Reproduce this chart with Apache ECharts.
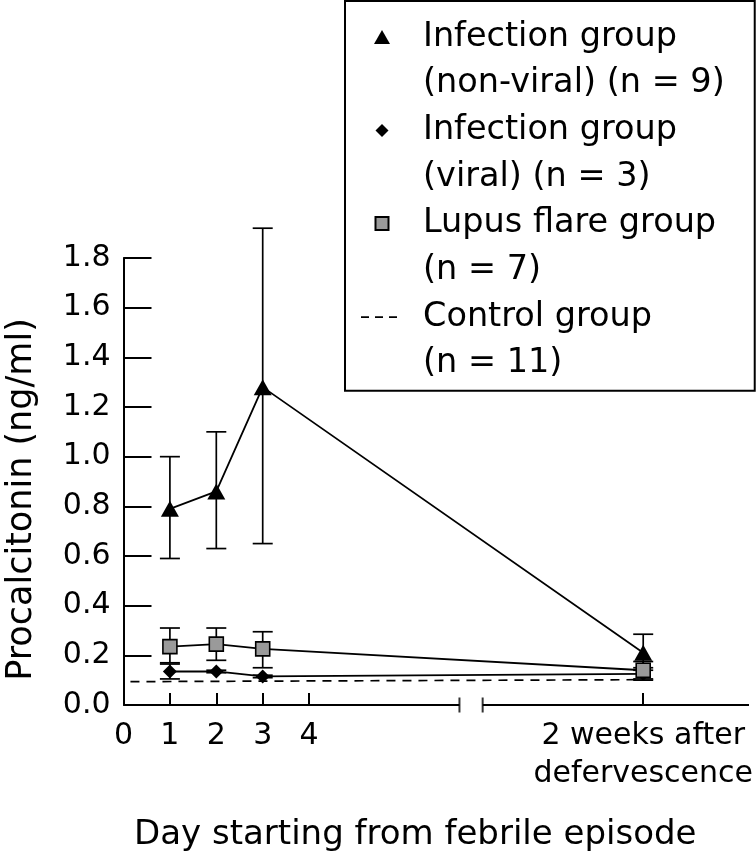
<!DOCTYPE html>
<html>
<head>
<meta charset="utf-8">
<script src="https://cdn.jsdelivr.net/npm/echarts@6/dist/echarts.min.js"></script>
<style>
html,body{margin:0;padding:0;background:#fff;}
#chart{width:756px;height:853px;}
</style>
</head>
<body>
<div id="chart"></div>
<script>
// ---- data ----
// x positions: days 1,2,3 and "2 weeks after defervescence" (placed after the axis break)
const xPositions = [1, 2, 3, 11.2];
const xTickLabelValues = [0, 1, 2, 3, 4, 11.2];
const xTickLabelTexts = ['0', '1', '2', '3', '4', '2 weeks after\ndefervescence'];
const xTickValues = [1, 2, 3, 4, 11.2];

const nonViralMean  = [0.79, 0.86, 1.28, 0.21];
const nonViralUpper = [1.00, 1.10, 1.92, 0.285];
const nonViralLower = [0.59, 0.63, 0.65, 0.15];

const viralMean  = [0.135, 0.135, 0.115, 0.125];
const viralUpper = [0.165, 0.14, 0.12, 0.14];
const viralLower = [0.105, 0.13, 0.11, 0.10];

const lupusMean  = [0.235, 0.245, 0.226, 0.14];
const lupusUpper = [0.31, 0.31, 0.295, 0.175];
const lupusLower = [0.17, 0.18, 0.15, 0.105];

const controlX = [0.15, 11.2];
const controlMean = [0.094, 0.102];

// legend: first line is the series name, second line shown on its own row
const seriesNames = ['Infection group', 'Infection group ', 'Lupus flare group', 'Control group'];
const legendSecondLines = ['(non-viral) (n = 9)', '(viral) (n = 3)', '(n = 7)', '(n = 11)'];

// axis extent and break
const xMin = 0, xMax = 13.48;
const breakStart = 7.24, breakEnd = 7.74;

const FONT = 'DejaVu Sans';

function pts(xs, ys) { return xs.map((x, i) => [x, ys[i]]); }
function errData(xs, lo, hi) { return xs.map((x, i) => [x, lo[i], hi[i]]); }

function errorBarRender(params, api) {
  const x = api.value(0), lo = api.value(1), hi = api.value(2);
  const pLo = api.coord([x, lo]);
  const pHi = api.coord([x, hi]);
  const half = 10;
  const st = { stroke: '#000', lineWidth: 1.7 };
  return {
    type: 'group',
    children: [
      { type: 'line', shape: { x1: pHi[0], y1: pHi[1], x2: pLo[0], y2: pLo[1] }, style: st },
      { type: 'line', shape: { x1: pHi[0] - half, y1: pHi[1], x2: pHi[0] + half, y2: pHi[1] }, style: st },
      { type: 'line', shape: { x1: pLo[0] - half, y1: pLo[1], x2: pLo[0] + half, y2: pLo[1] }, style: st }
    ]
  };
}

// legend icons drawn in a 42x15 box (corner anchors keep the shapes undistorted)
const ICON_BOX = 'M0,0L0,0 M42,15L42,15 ';
const legendIcons = [
  'path://' + ICON_BOX + 'M13,14.5 L21,0.5 L29,14.5 Z',
  'path://' + ICON_BOX + 'M21,1 L27.5,7.5 L21,14 L14.5,7.5 Z',
  'path://' + ICON_BOX + 'M14.5,0.8 L27.5,0.8 L27.5,13.8 L14.5,13.8 Z',
  'path://' + ICON_BOX + 'M0,6.6h8v1.8h-8z M14,6.6h8v1.8h-8z M28,6.6h8v1.8h-8z'
];
const legendData = [];
seriesNames.forEach((n, i) => {
  legendData.push({ name: n, icon: legendIcons[i] });
  legendData.push({ name: legendSecondLines[i], icon: 'rect', itemStyle: { color: 'rgba(0,0,0,0)', borderWidth: 0, opacity: 0 } });
});

const chart = echarts.init(document.getElementById('chart'), null, { renderer: 'canvas' });

const option = {
  animation: false,
  backgroundColor: '#fff',
  textStyle: { fontFamily: FONT, color: '#000' },
  grid: { left: 123.5, right: 7, top: 258, bottom: 148, containLabel: false, outerBoundsMode: 'none' },
  legend: {
    orient: 'vertical',
    left: 345,
    top: 1,
    padding: [12.7, 30, 3.7, 15],
    itemWidth: 42,
    itemHeight: 15,
    itemGap: 0,
    borderColor: '#000',
    borderWidth: 2,
    backgroundColor: '#fff',
    selectedMode: false,
    textStyle: {
      fontFamily: FONT,
      fontSize: 33.5,
      lineHeight: 46.67,
      color: '#000',
      padding: [0, 0, 0, 15]
    },
    formatter: function (name) { return name.trim(); },
    data: legendData
  },
  xAxis: {
    type: 'value',
    min: xMin,
    max: xMax,
    name: 'Day starting from febrile episode',
    nameLocation: 'middle',
    nameGap: 113,
    nameTextStyle: { fontFamily: FONT, fontSize: 34, color: '#000', padding: [0, 42, 0, 0] },
    axisLine: { show: false },
    axisTick: {
      show: true, inside: true, length: 12,
      customValues: xTickValues,
      lineStyle: { color: '#000', width: 2 }
    },
    axisLabel: {
      show: true,
      customValues: xTickLabelValues,
      formatter: function (v) {
        const i = xTickLabelValues.indexOf(v);
        return i >= 0 ? xTickLabelTexts[i] : '';
      },
      fontFamily: FONT, fontSize: 30, color: '#000',
      lineHeight: 38, margin: 12
    },
    splitLine: { show: false }
  },
  yAxis: {
    type: 'value',
    min: 0,
    max: 1.8,
    interval: 0.2,
    name: 'Procalcitonin (ng/ml)',
    nameLocation: 'middle',
    nameRotate: 90,
    nameGap: 84,
    nameTextStyle: { fontFamily: FONT, fontSize: 35, color: '#000', padding: [0, 36, 0, 0] },
    axisLine: { show: true, lineStyle: { color: '#000', width: 2 } },
    axisTick: { show: true, inside: true, length: 28, lineStyle: { color: '#000', width: 2 } },
    axisLabel: {
      fontFamily: FONT, fontSize: 30, color: '#000', margin: 13,
      formatter: function (v) { return v.toFixed(1); }
    },
    splitLine: { show: false }
  },
  series: [
    // x-axis line in two pieces around the break
    {
      name: 'axisLeft', type: 'line', data: [[xMin, 0], [breakStart, 0]],
      symbol: 'none', clip: false, silent: true, z: 5,
      lineStyle: { color: '#000', width: 2 }
    },
    {
      name: 'axisRight', type: 'line', data: [[breakEnd, 0], [xMax, 0]],
      symbol: 'none', clip: false, silent: true, z: 5,
      lineStyle: { color: '#000', width: 2 }
    },
    {
      name: 'axisBreak', type: 'scatter', data: [[breakStart, 0], [breakEnd, 0]],
      symbol: 'rect', symbolSize: [2, 15], clip: false, silent: true, z: 5,
      itemStyle: { color: '#000' }
    },
    // error bars
    {
      name: 'errNonViral', type: 'custom', renderItem: errorBarRender,
      data: errData(xPositions, nonViralLower, nonViralUpper),
      encode: { x: 0, y: [1, 2] }, clip: false, silent: true, z: 1
    },
    {
      name: 'errViral', type: 'custom', renderItem: errorBarRender,
      data: errData(xPositions, viralLower, viralUpper),
      encode: { x: 0, y: [1, 2] }, clip: false, silent: true, z: 1
    },
    {
      name: 'errLupus', type: 'custom', renderItem: errorBarRender,
      data: errData(xPositions, lupusLower, lupusUpper),
      encode: { x: 0, y: [1, 2] }, clip: false, silent: true, z: 1
    },
    // control group (dashed)
    {
      name: seriesNames[3], type: 'line', data: pts(controlX, controlMean),
      symbol: 'none', clip: false, z: 2,
      itemStyle: { color: '#000' },
      lineStyle: { color: '#000', width: 1.7, type: [9, 7] }
    },
    // viral
    {
      name: seriesNames[1], type: 'line', data: pts(xPositions, viralMean),
      symbol: 'diamond', symbolSize: 14, clip: false, z: 3,
      itemStyle: { color: '#000' },
      lineStyle: { color: '#000', width: 1.8 }
    },
    // lupus
    {
      name: seriesNames[2], type: 'line', data: pts(xPositions, lupusMean),
      symbol: 'rect', symbolSize: 14, clip: false, z: 4,
      itemStyle: { color: '#9a9a9a', borderColor: '#000', borderWidth: 1.6 },
      lineStyle: { color: '#000', width: 1.8 }
    },
    // non-viral
    {
      name: seriesNames[0], type: 'line', data: pts(xPositions, nonViralMean),
      symbol: 'triangle', symbolSize: [18, 16], clip: false, z: 4,
      itemStyle: { color: '#000' },
      lineStyle: { color: '#000', width: 1.8 }
    },
    // legend second-line rows (no marks)
    ...legendSecondLines.map(n => ({
      name: n, type: 'line', data: [], silent: true,
      itemStyle: { color: 'rgba(0,0,0,0)' }, lineStyle: { width: 0 }
    }))
  ]
};

chart.setOption(option);
</script>
</body>
</html>
